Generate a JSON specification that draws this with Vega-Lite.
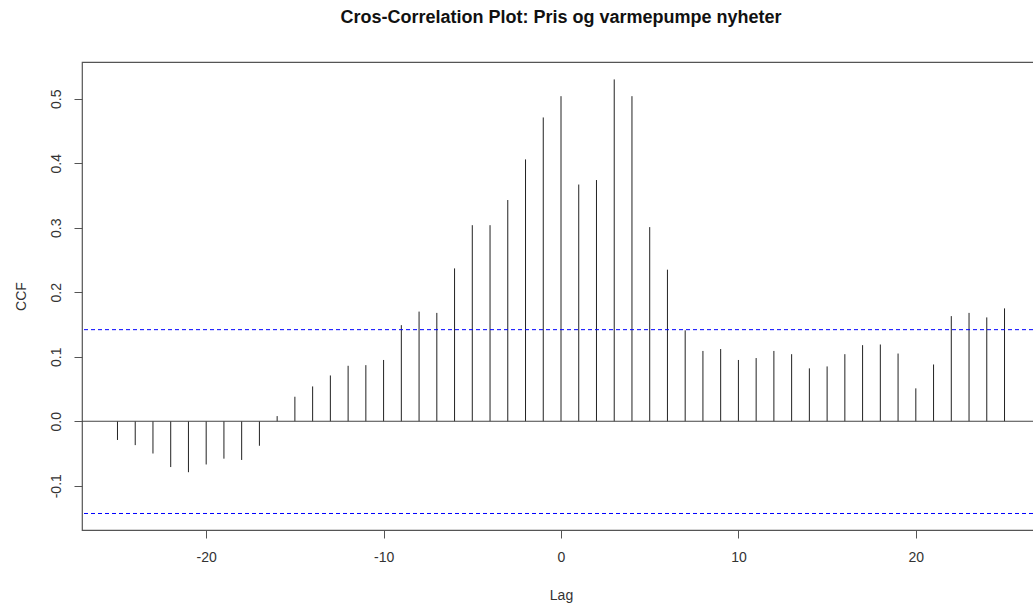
{
  "$schema": "https://vega.github.io/schema/vega-lite/v6.json",
  "autosize": "none",
  "padding": {"left": 82, "top": 62, "right": 0, "bottom": 73},
  "width": 958,
  "height": 468,
  "background": "white",
  "title": {
    "text": "Cros-Correlation Plot: Pris og varmepumpe nyheter",
    "font": "Liberation Sans",
    "fontSize": 18,
    "fontWeight": "bold",
    "color": "#111111",
    "anchor": "middle",
    "offset": 35
  },
  "config": {
    "view": {"stroke": "#555555", "strokeWidth": 1.2},
    "axis": {
      "labelFont": "Liberation Sans",
      "titleFont": "Liberation Sans",
      "labelFontSize": 14,
      "titleFontSize": 14,
      "titleFontWeight": "normal",
      "labelColor": "#333333",
      "titleColor": "#333333",
      "tickColor": "#555555",
      "domain": false,
      "grid": false,
      "tickSize": 8
    }
  },
  "data": {
    "values": [
      {"lag": -25, "ccf": -0.029}, {"lag": -24, "ccf": -0.037}, {"lag": -23, "ccf": -0.050},
      {"lag": -22, "ccf": -0.071}, {"lag": -21, "ccf": -0.079}, {"lag": -20, "ccf": -0.067},
      {"lag": -19, "ccf": -0.058}, {"lag": -18, "ccf": -0.060}, {"lag": -17, "ccf": -0.038},
      {"lag": -16, "ccf": 0.008}, {"lag": -15, "ccf": 0.038}, {"lag": -14, "ccf": 0.054},
      {"lag": -13, "ccf": 0.071}, {"lag": -12, "ccf": 0.086}, {"lag": -11, "ccf": 0.087},
      {"lag": -10, "ccf": 0.095}, {"lag": -9, "ccf": 0.149}, {"lag": -8, "ccf": 0.170},
      {"lag": -7, "ccf": 0.168}, {"lag": -6, "ccf": 0.237}, {"lag": -5, "ccf": 0.304},
      {"lag": -4, "ccf": 0.304}, {"lag": -3, "ccf": 0.343}, {"lag": -2, "ccf": 0.406},
      {"lag": -1, "ccf": 0.471}, {"lag": 0, "ccf": 0.504}, {"lag": 1, "ccf": 0.367},
      {"lag": 2, "ccf": 0.374}, {"lag": 3, "ccf": 0.530}, {"lag": 4, "ccf": 0.504},
      {"lag": 5, "ccf": 0.301}, {"lag": 6, "ccf": 0.235}, {"lag": 7, "ccf": 0.141},
      {"lag": 8, "ccf": 0.109}, {"lag": 9, "ccf": 0.112}, {"lag": 10, "ccf": 0.095},
      {"lag": 11, "ccf": 0.098}, {"lag": 12, "ccf": 0.109}, {"lag": 13, "ccf": 0.104},
      {"lag": 14, "ccf": 0.082}, {"lag": 15, "ccf": 0.085}, {"lag": 16, "ccf": 0.104},
      {"lag": 17, "ccf": 0.118}, {"lag": 18, "ccf": 0.119}, {"lag": 19, "ccf": 0.105},
      {"lag": 20, "ccf": 0.051}, {"lag": 21, "ccf": 0.088}, {"lag": 22, "ccf": 0.163},
      {"lag": 23, "ccf": 0.168}, {"lag": 24, "ccf": 0.161}, {"lag": 25, "ccf": 0.175}
    ]
  },
  "layer": [
    {
      "mark": {"type": "rule", "color": "#222222", "strokeWidth": 1},
      "encoding": {
        "x": {
          "field": "lag", "type": "quantitative",
          "scale": {"domain": [-27, 27], "nice": false, "zero": false},
          "axis": {
            "values": [-20, -10, 0, 10, 20],
            "title": "Lag",
            "labelExpr": "replace(datum.label, '\u2212', '-')",
            "labelPadding": 12,
            "titlePadding": 24
          }
        },
        "y": {
          "field": "ccf", "type": "quantitative",
          "scale": {"domain": [-0.1686, 0.557], "nice": false, "zero": false},
          "axis": {
            "values": [-0.1, 0, 0.1, 0.2, 0.3, 0.4, 0.5],
            "format": ".1f",
            "labelExpr": "replace(datum.label, '\u2212', '-')",
            "title": "CCF",
            "labelAngle": -90,
            "labelAlign": "center",
            "labelBaseline": "bottom",
            "labelPadding": 11,
            "titlePadding": 21
          }
        },
        "y2": {"datum": 0}
      }
    },
    {
      "data": {"values": [{"h": 0}]},
      "mark": {"type": "rule", "color": "#444444", "strokeWidth": 1},
      "encoding": {"y": {"field": "h", "type": "quantitative"}}
    },
    {
      "data": {"values": [{"ci": 0.142}, {"ci": -0.143}]},
      "mark": {"type": "rule", "color": "blue", "strokeWidth": 1, "strokeDash": [4, 3]},
      "encoding": {"y": {"field": "ci", "type": "quantitative"}}
    }
  ]
}
